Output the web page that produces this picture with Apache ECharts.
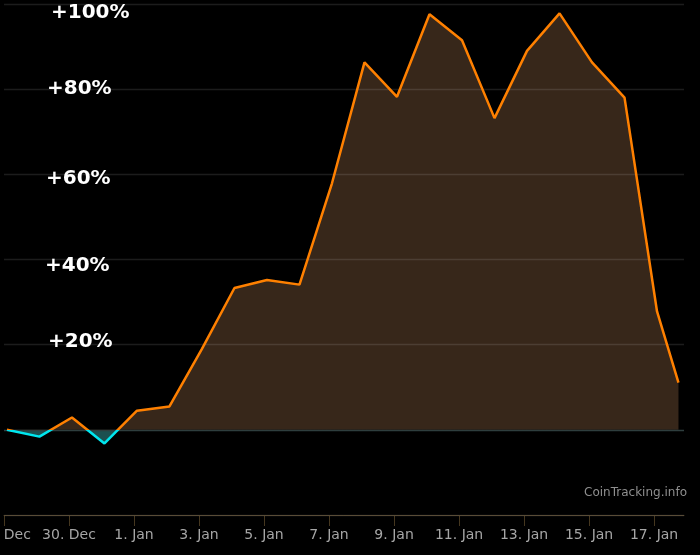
<!DOCTYPE html>
<html><head><meta charset="utf-8">
<script src="https://cdn.jsdelivr.net/npm/echarts@6/dist/echarts.min.js"></script>
<style>html,body{margin:0;padding:0;background:#000}#c{width:700px;height:555px}</style>
</head><body><div id="c"></div>
<script>
// ---- data ----
const dates = ['2017-12-28 02:10','2017-12-29 02:10','2017-12-30 02:10','2017-12-31 02:10',
  '2018-01-01 02:10','2018-01-02 02:10','2018-01-03 02:10','2018-01-04 02:10','2018-01-05 02:10',
  '2018-01-06 02:10','2018-01-07 02:10','2018-01-08 02:10','2018-01-09 02:10','2018-01-10 02:10',
  '2018-01-11 02:10','2018-01-12 02:10','2018-01-13 02:10','2018-01-14 02:10','2018-01-15 02:10',
  '2018-01-16 02:10','2018-01-17 02:10','2018-01-17 18:00'];
const changePct = [0, -1.6, 2.9, -3.2, 4.5, 5.5, 19.0, 33.3, 35.2, 34.1, 57.9, 86.3, 78.2, 97.6,
  91.5, 73.2, 89.0, 97.8, 86.3, 78.0, 27.8, 11.1];
const xTickLabels = ['28. Dec','30. Dec','1. Jan','3. Jan','5. Jan','7. Jan','9. Jan','11. Jan','13. Jan','15. Jan','17. Jan'];
const yTickLabels = ['+20%','+40%','+60%','+80%','+100%'];
const startDate = '2017-12-28 00:00';
const endDate = '2018-01-17 22:05';
const creditText = 'CoinTracking.info';

// ---- helpers ----
const toMs = s => Date.parse(s.replace(' ', 'T') + ':00Z');
const dayOf = s => (toMs(s) - toMs(startDate)) / 86400000;
const seriesData = dates.map((d, i) => [dayOf(d), changePct[i]]);
const xTickValues = xTickLabels.map((_, i) => i * 2);

const labelFont = {color:'#fff', fontSize:20, fontWeight:'bold', fontFamily:'DejaVu Sans'};
const rich = {
  l20: Object.assign({padding:[0,0,6,3]}, labelFont),
  l40: Object.assign({padding:[12,0,0,0]}, labelFont),
  l60: Object.assign({padding:[8,0,0,1]}, labelFont),
  l80: Object.assign({padding:[0,0,0,2]}, labelFont),
  l100: Object.assign({padding:[18,0,0,6]}, labelFont)
};
const gridC = 'rgba(255,255,255,0.11)';
const zeroC = '#2e3e3e';

const chart = echarts.init(document.getElementById('c'), null, {renderer:'canvas'});
chart.setOption({
  backgroundColor:'#000',
  animation:false,
  grid:{left:4, right:16, top:4, bottom:40, containLabel:false, outerBoundsMode:'none'},
  xAxis:{
    type:'value', min:0, max:dayOf(endDate),
    axisLine:{show:true, onZero:false, lineStyle:{color:'#45371f', width:1}},
    axisTick:{show:true, length:11, customValues:xTickValues, lineStyle:{color:'#45371f'}},
    splitLine:{show:false},
    axisLabel:{margin:13, color:'#a6a6a6', fontSize:14, fontFamily:'DejaVu Sans',
      customValues:xTickValues, hideOverlap:false,
      formatter:v => xTickLabels[Math.round(v/2)] || ''}
  },
  yAxis:{
    type:'value', min:-20, max:100, interval:20, z:3,
    axisLine:{show:false}, axisTick:{show:false},
    splitLine:{lineStyle:{color:[gridC, zeroC, gridC, gridC, gridC, gridC, gridC], width:1.3}},
    axisLabel:{inside:true, margin:41, rich:rich,
      formatter:v => v > 0 ? '{l' + v + '|' + yTickLabels[v/20 - 1] + '}' : ''}
  },
  visualMap:[
    {type:'piecewise', show:false, seriesIndex:0, dimension:1,
      pieces:[{gte:-1000, lt:0, color:'#1c5050'}, {gte:0, lte:1000, color:'#37271a'}]},
    {type:'piecewise', show:false, seriesIndex:1, dimension:1,
      pieces:[{gte:-1000, lt:0, color:'#00e6ee'}, {gte:0, lte:1000, color:'#ff8000'}]}
  ],
  series:[
    {type:'line', data:seriesData, showSymbol:false, z:2,
      lineStyle:{width:0}, areaStyle:{opacity:1}},
    {type:'line', data:seriesData, showSymbol:false, z:5,
      lineStyle:{width:2.5}}
  ],
  graphic:[{type:'text', right:13, top:487, z:10,
    style:{text:creditText, fill:'#8f8f8f', font:'12px "DejaVu Sans"'}}]
});
</script></body></html>
